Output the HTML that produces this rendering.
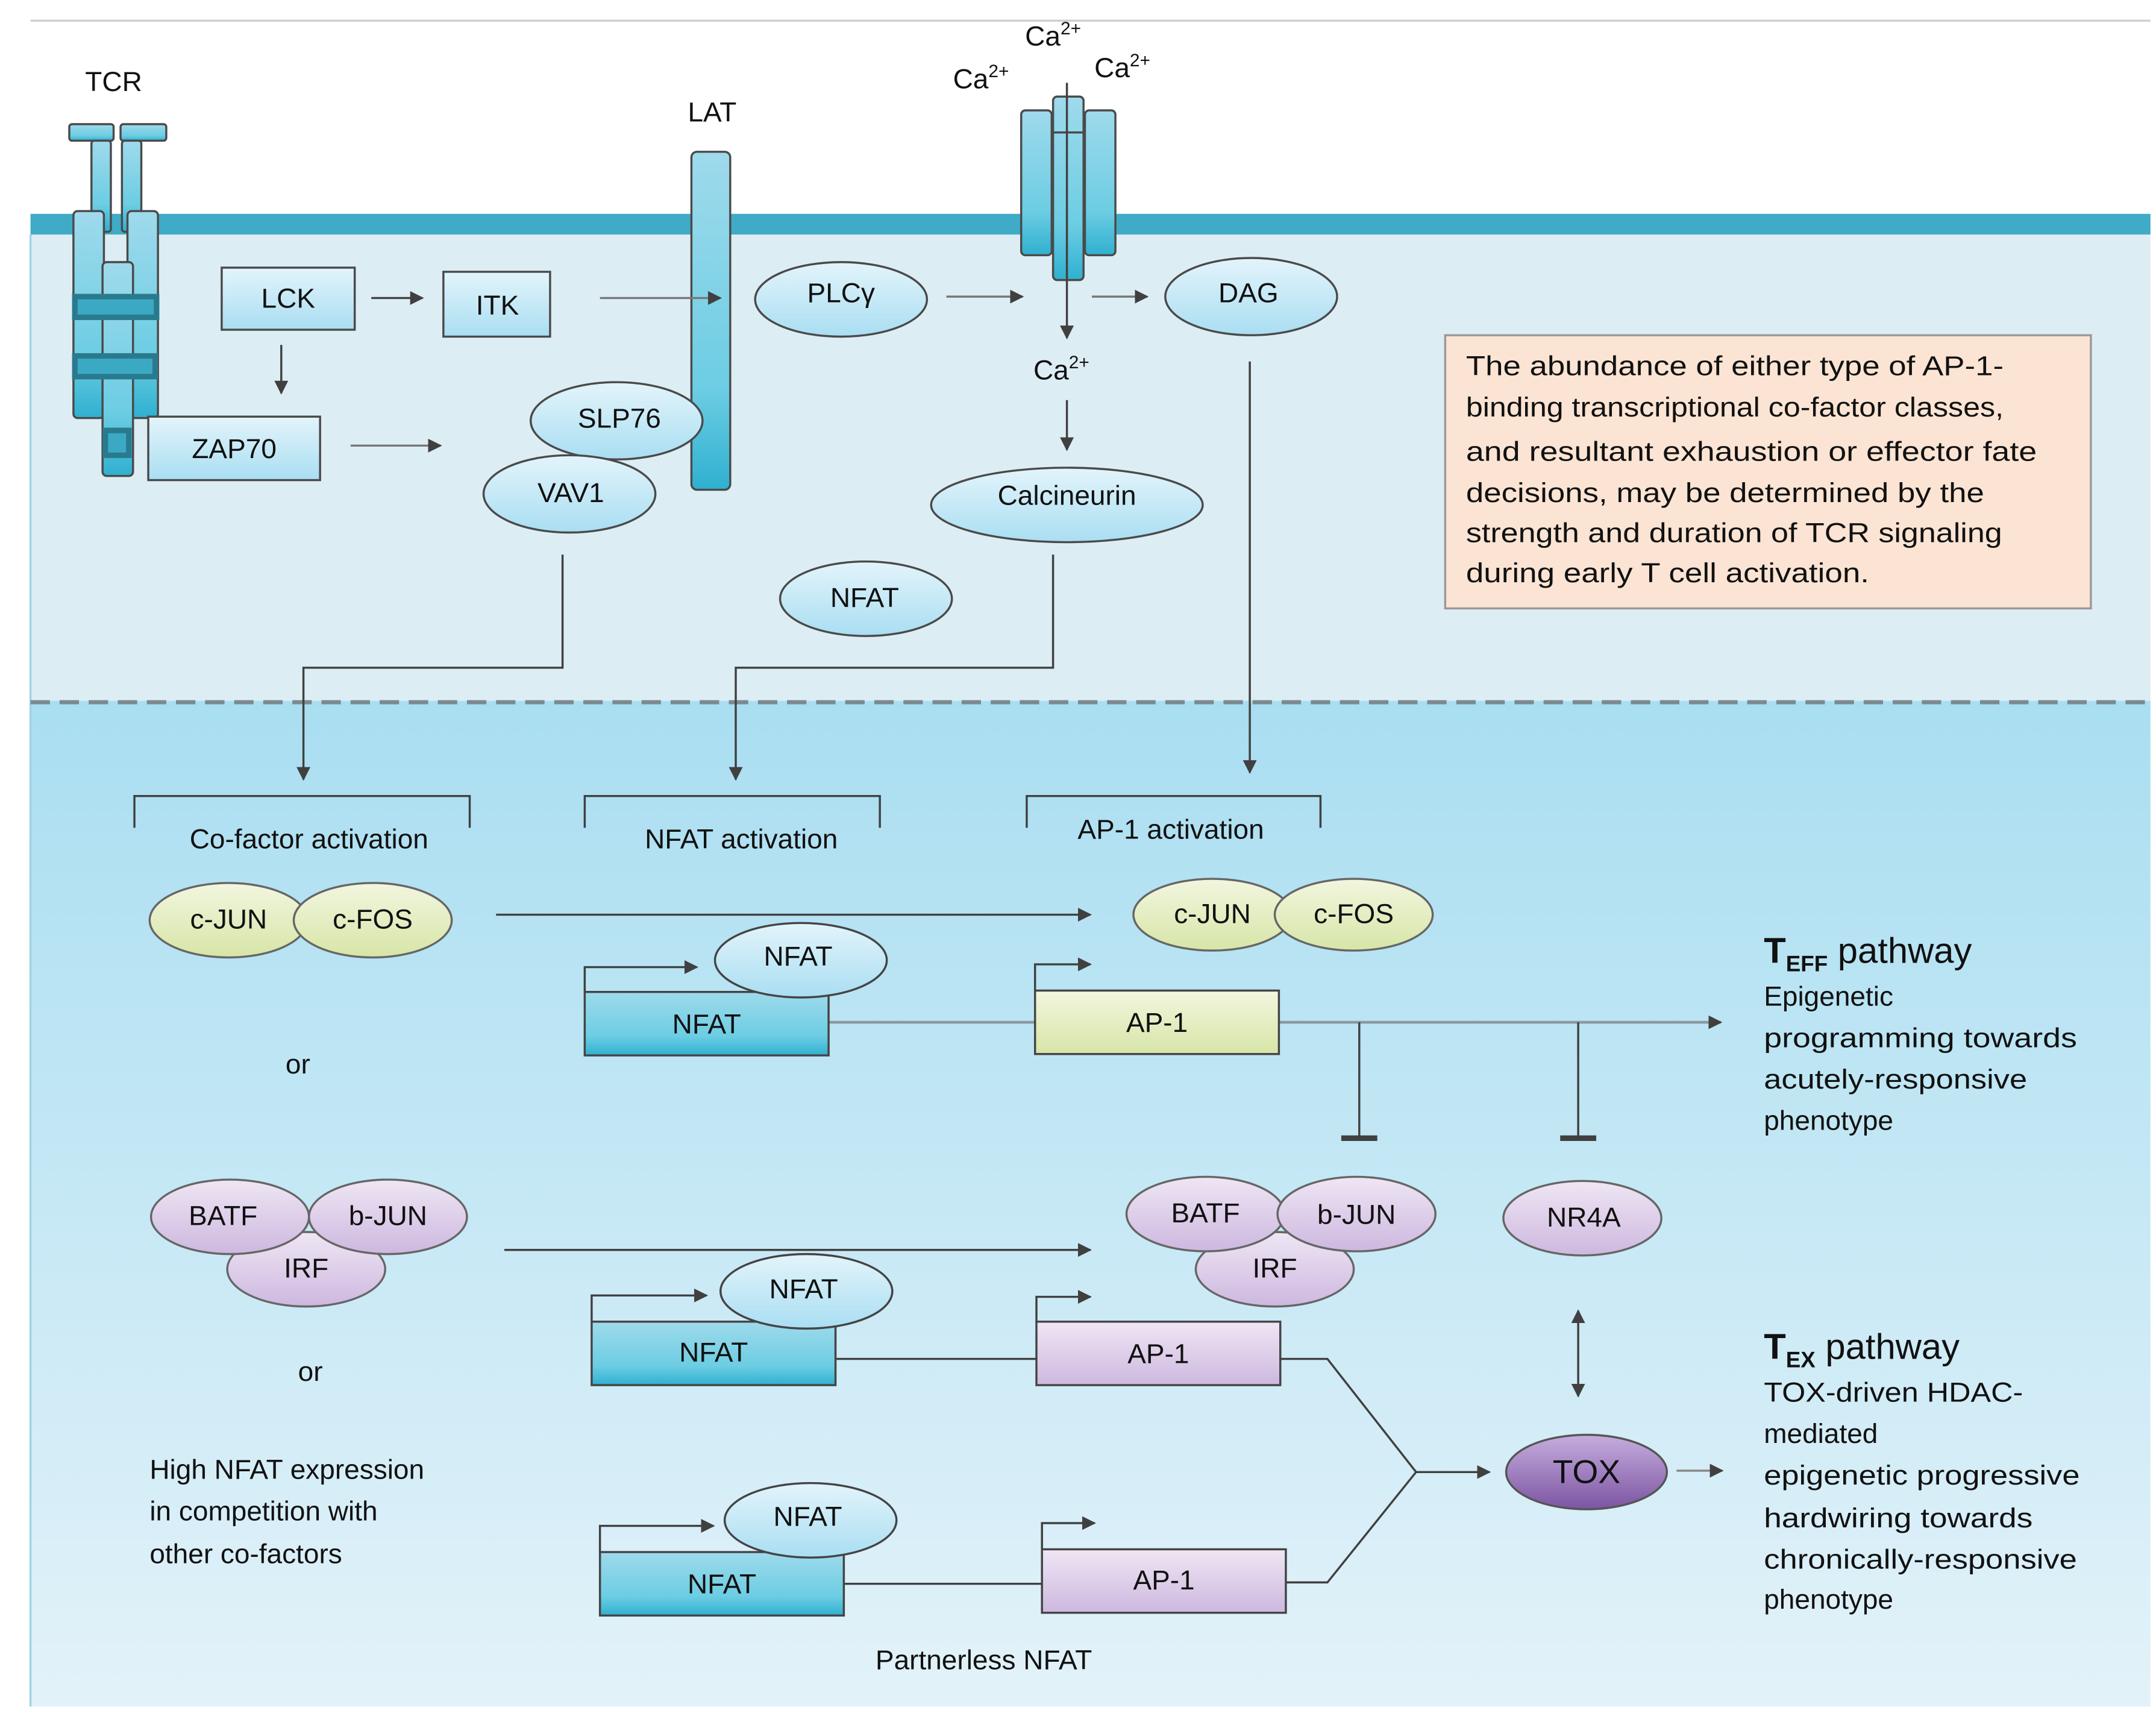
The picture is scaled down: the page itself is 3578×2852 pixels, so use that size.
<!DOCTYPE html>
<html><head><meta charset="utf-8"><style>html,body{margin:0;padding:0;background:#fff}svg{display:block}</style></head>
<body>
<svg width="3578" height="2852" viewBox="0 0 1556 1246" preserveAspectRatio="none" xmlns="http://www.w3.org/2000/svg" font-family="Liberation Sans, sans-serif">
<defs>
<linearGradient id="nuc" x1="0" y1="0" x2="0" y2="1"><stop offset="0" stop-color="#a9def1"/><stop offset="1" stop-color="#e3f2f9"/></linearGradient>
<linearGradient id="teal" x1="0" y1="0" x2="0" y2="1"><stop offset="0" stop-color="#9fdaec"/><stop offset="0.7" stop-color="#6ccde3"/><stop offset="1" stop-color="#2fb0d0"/></linearGradient>
<linearGradient id="lb" x1="0" y1="0" x2="0" y2="1"><stop offset="0" stop-color="#e3f4fb"/><stop offset="1" stop-color="#a9def2"/></linearGradient>
<linearGradient id="gr" x1="0" y1="0" x2="0" y2="1"><stop offset="0" stop-color="#f2f6df"/><stop offset="1" stop-color="#d7e5a7"/></linearGradient>
<linearGradient id="pu" x1="0" y1="0" x2="0" y2="1"><stop offset="0" stop-color="#efe6f4"/><stop offset="1" stop-color="#cdb8df"/></linearGradient>
<linearGradient id="tox" x1="0" y1="0" x2="0" y2="1"><stop offset="0" stop-color="#c6addd"/><stop offset="1" stop-color="#7c55a3"/></linearGradient>
<marker id="ar" markerWidth="10" markerHeight="10" refX="9" refY="5" orient="auto" markerUnits="userSpaceOnUse"><path d="M0,0 L10,5 L0,10 z" fill="#404040"/></marker>
<marker id="as" markerWidth="10" markerHeight="10" refX="1" refY="5" orient="auto" markerUnits="userSpaceOnUse"><path d="M10,0 L0,5 L10,10 z" fill="#404040"/></marker>
</defs>
<line x1="22" y1="15" x2="1552" y2="15" stroke="#cfcfcf" stroke-width="1.5"/>
<rect x="22" y="170" width="1530" height="338" fill="#ddedf4"/>
<rect x="22" y="508" width="1530" height="729" fill="url(#nuc)"/>
<line x1="22" y1="170" x2="22" y2="1237" stroke="#9fd3e4" stroke-width="1.5"/>
<rect x="22" y="155" width="1530" height="15" fill="#3fabc6"/>
<line x1="22" y1="509" x2="1552" y2="509" stroke="#7a8a90" stroke-width="3" stroke-dasharray="14,7"/>

<g stroke="#4a4a4a" stroke-width="1.5" fill="url(#teal)">
<rect x="50" y="90" width="32" height="12" rx="2"/><rect x="87" y="90" width="33" height="12" rx="2"/>
<rect x="66" y="102" width="14" height="66" rx="2"/><rect x="88" y="102" width="14" height="66" rx="2"/>
<rect x="53" y="153" width="22" height="150" rx="3"/><rect x="92" y="153" width="22" height="150" rx="3"/>
<rect x="74" y="190" width="22" height="155" rx="3"/>
</g>
<g fill="#3ba9c4" stroke="#2a7a8e" stroke-width="4"><rect x="54" y="215" width="59" height="15"/><rect x="54" y="258" width="58" height="15"/><rect x="76" y="312" width="17" height="18"/></g>

<g stroke="#4a4a4a" stroke-width="1.5">
<rect x="160" y="194" width="96" height="45" fill="url(#lb)"/>
<rect x="320" y="197" width="77" height="47" fill="url(#lb)"/>
<rect x="107" y="302" width="124" height="46" fill="url(#lb)"/>
<rect x="499" y="110" width="28" height="245" rx="4" fill="url(#teal)"/>
<ellipse cx="445" cy="305" rx="62" ry="28" fill="url(#lb)"/>
<ellipse cx="411" cy="358" rx="62" ry="28" fill="url(#lb)"/>
<ellipse cx="607" cy="217" rx="62" ry="27" fill="url(#lb)"/>
<rect x="737" y="80" width="22" height="105" rx="3" fill="url(#teal)"/>
<rect x="783" y="80" width="22" height="105" rx="3" fill="url(#teal)"/>
<rect x="760" y="70" width="22" height="133" rx="3" fill="url(#teal)"/>
<line x1="760" y1="96" x2="782" y2="96"/>
<ellipse cx="903" cy="215" rx="62" ry="28" fill="url(#lb)"/>
<ellipse cx="770" cy="366" rx="98" ry="27" fill="url(#lb)"/>
<ellipse cx="625" cy="434" rx="62" ry="27" fill="url(#lb)"/>
</g>
<line x1="770" y1="60" x2="770" y2="245" stroke="#404040" stroke-width="1.5" marker-end="url(#ar)"/>

<g stroke="#404040" stroke-width="1.5" fill="none">
<line x1="268" y1="216" x2="305" y2="216" marker-end="url(#ar)"/>
<line x1="433" y1="216" x2="520" y2="216" stroke="#777" marker-end="url(#ar)"/>
<line x1="203" y1="250" x2="203" y2="285" marker-end="url(#ar)"/>
<line x1="253" y1="323" x2="318" y2="323" stroke="#777" marker-end="url(#ar)"/>
<line x1="683" y1="215" x2="738" y2="215" stroke="#777" marker-end="url(#ar)"/>
<line x1="788" y1="215" x2="828" y2="215" stroke="#777" marker-end="url(#ar)"/>
<line x1="770" y1="290" x2="770" y2="326" marker-end="url(#ar)"/>
<polyline points="406,402 406,484 219,484 219,565" marker-end="url(#ar)"/>
<polyline points="760,402 760,484 531,484 531,565" marker-end="url(#ar)"/>
<line x1="902" y1="262" x2="902" y2="560" marker-end="url(#ar)"/>
<polyline points="97,600 97,577 339,577 339,600"/>
<polyline points="422,600 422,577 635,577 635,600"/>
<polyline points="741,600 741,577 953,577 953,600"/>
<line x1="358" y1="663" x2="787" y2="663" marker-end="url(#ar)"/>
<line x1="364" y1="906" x2="787" y2="906" marker-end="url(#ar)"/>
<polyline points="422,719 422,701 503,701" marker-end="url(#ar)"/>
<polyline points="747,718 747,699 787,699" marker-end="url(#ar)"/>
<polyline points="427,958 427,939 510,939" marker-end="url(#ar)"/>
<polyline points="748,958 748,940 787,940" marker-end="url(#ar)"/>
<polyline points="433,1125 433,1106 515,1106" marker-end="url(#ar)"/>
<polyline points="752,1123 752,1104 790,1104" marker-end="url(#ar)"/>
<line x1="598" y1="741" x2="747" y2="741" stroke="#8a9aa0" stroke-width="2"/>
<line x1="923" y1="741" x2="1242" y2="741" stroke="#8a9aa0" stroke-width="2" marker-end="url(#ar)"/>
<line x1="981" y1="741" x2="981" y2="825"/><line x1="968" y1="825" x2="994" y2="825" stroke-width="4"/>
<line x1="1139" y1="741" x2="1139" y2="825"/><line x1="1126" y1="825" x2="1152" y2="825" stroke-width="4"/>
<line x1="1139" y1="950" x2="1139" y2="1012" marker-start="url(#as)" marker-end="url(#ar)"/>
<line x1="603" y1="985" x2="748" y2="985"/>
<polyline points="924,985 958,985 1022,1067 958,1147 928,1147"/>
<line x1="1022" y1="1067" x2="1075" y2="1067" marker-end="url(#ar)"/>
<line x1="1210" y1="1066" x2="1243" y2="1066" stroke="#888" marker-end="url(#ar)"/>
<line x1="609" y1="1148" x2="752" y2="1148"/>
</g>

<g stroke="#666" stroke-width="1.5">
<ellipse cx="165" cy="667" rx="57" ry="27" fill="url(#gr)"/><ellipse cx="269" cy="667" rx="57" ry="27" fill="url(#gr)"/>
<ellipse cx="875" cy="663" rx="57" ry="26" fill="url(#gr)"/><ellipse cx="977" cy="663" rx="57" ry="26" fill="url(#gr)"/>
<ellipse cx="221" cy="920" rx="57" ry="27" fill="url(#pu)"/>
<ellipse cx="166" cy="882" rx="57" ry="27" fill="url(#pu)"/><ellipse cx="280" cy="882" rx="57" ry="27" fill="url(#pu)"/>
<ellipse cx="920" cy="920" rx="57" ry="27" fill="url(#pu)"/>
<ellipse cx="870" cy="880" rx="57" ry="27" fill="url(#pu)"/><ellipse cx="979" cy="880" rx="57" ry="27" fill="url(#pu)"/>
<ellipse cx="1142" cy="883" rx="57" ry="27" fill="url(#pu)"/>
</g>
<g stroke="#444" stroke-width="1.5">
<rect x="422" y="719" width="176" height="46" fill="url(#teal)"/>
<ellipse cx="578" cy="696" rx="62" ry="27" fill="url(#lb)"/>
<rect x="747" y="718" width="176" height="46" fill="url(#gr)"/>
<rect x="427" y="958" width="176" height="46" fill="url(#teal)"/>
<ellipse cx="582" cy="936" rx="62" ry="27" fill="url(#lb)"/>
<rect x="748" y="958" width="176" height="46" fill="url(#pu)"/>
<rect x="433" y="1125" width="176" height="46" fill="url(#teal)"/>
<ellipse cx="585" cy="1102" rx="62" ry="27" fill="url(#lb)"/>
<rect x="752" y="1123" width="176" height="46" fill="url(#pu)"/>
<ellipse cx="1145" cy="1067" rx="58" ry="27" fill="url(#tox)" stroke="#555"/>
<rect x="1043" y="243" width="466" height="198" fill="#fbe4d3" stroke="#999"/>
</g>

<g font-size="20" fill="#111" text-anchor="middle">
<text x="82" y="66">TCR</text><text x="514" y="88">LAT</text>
<text x="208" y="223">LCK</text><text x="359" y="228">ITK</text><text x="169" y="332">ZAP70</text>
<text x="447" y="310">SLP76</text><text x="412" y="364">VAV1</text><text x="607" y="219">PLCγ</text>
<text x="901" y="219">DAG</text><text x="770" y="366">Calcineurin</text><text x="624" y="440">NFAT</text>
<text x="760" y="33">Ca<tspan font-size="13" dy="-8">2+</tspan></text>
<text x="708" y="64">Ca<tspan font-size="13" dy="-8">2+</tspan></text>
<text x="810" y="56">Ca<tspan font-size="13" dy="-8">2+</tspan></text>
<text x="766" y="275">Ca<tspan font-size="13" dy="-8">2+</tspan></text>
<text x="223" y="615">Co-factor activation</text><text x="535" y="615">NFAT activation</text><text x="845" y="608">AP-1 activation</text>
<text x="165" y="673">c-JUN</text><text x="269" y="673">c-FOS</text><text x="875" y="669">c-JUN</text><text x="977" y="669">c-FOS</text>
<text x="576" y="700">NFAT</text><text x="510" y="749">NFAT</text><text x="835" y="748">AP-1</text>
<text x="215" y="778">or</text><text x="224" y="1001">or</text>
<text x="161" y="888">BATF</text><text x="280" y="888">b-JUN</text><text x="221" y="926">IRF</text>
<text x="870" y="886">BATF</text><text x="979" y="887">b-JUN</text><text x="920" y="926">IRF</text>
<text x="1143" y="889">NR4A</text>
<text x="580" y="941">NFAT</text><text x="515" y="987">NFAT</text><text x="836" y="988">AP-1</text>
<text x="583" y="1106">NFAT</text><text x="521" y="1155">NFAT</text><text x="840" y="1152">AP-1</text>
<text x="1145" y="1075" font-size="24">TOX</text>
<text x="710" y="1210">Partnerless NFAT</text>
</g>
<g font-size="20" fill="#111">
<text x="108" y="1072">High NFAT expression</text><text x="108" y="1102">in competition with</text><text x="108" y="1133">other co-factors</text>
<text x="1058" y="272" textLength="388" lengthAdjust="spacingAndGlyphs">The abundance of either type of AP-1-</text>
<text x="1058" y="302" textLength="388" lengthAdjust="spacingAndGlyphs">binding transcriptional co-factor classes,</text>
<text x="1058" y="334" textLength="412" lengthAdjust="spacingAndGlyphs">and resultant exhaustion or effector fate</text>
<text x="1058" y="364" textLength="374" lengthAdjust="spacingAndGlyphs">decisions, may be determined by the</text>
<text x="1058" y="393" textLength="387" lengthAdjust="spacingAndGlyphs">strength and duration of TCR signaling</text>
<text x="1058" y="422" textLength="291" lengthAdjust="spacingAndGlyphs">during early T cell activation.</text>
<text x="1273" y="698" font-size="26"><tspan font-weight="bold">T</tspan><tspan font-size="16" font-weight="bold" dy="6">EFF</tspan><tspan dy="-6"> pathway</tspan></text>
<text x="1273" y="729">Epigenetic</text>
<text x="1273" y="759" textLength="226" lengthAdjust="spacingAndGlyphs">programming towards</text>
<text x="1273" y="789" textLength="190" lengthAdjust="spacingAndGlyphs">acutely-responsive</text>
<text x="1273" y="819">phenotype</text>
<text x="1273" y="985" font-size="26"><tspan font-weight="bold">T</tspan><tspan font-size="16" font-weight="bold" dy="6">EX</tspan><tspan dy="-6"> pathway</tspan></text>
<text x="1273" y="1016" textLength="187" lengthAdjust="spacingAndGlyphs">TOX-driven HDAC-</text>
<text x="1273" y="1046">mediated</text>
<text x="1273" y="1076" textLength="228" lengthAdjust="spacingAndGlyphs">epigenetic progressive</text>
<text x="1273" y="1107" textLength="194" lengthAdjust="spacingAndGlyphs">hardwiring towards</text>
<text x="1273" y="1137" textLength="226" lengthAdjust="spacingAndGlyphs">chronically-responsive</text>
<text x="1273" y="1166">phenotype</text>
</g>
</svg>
</body></html>
